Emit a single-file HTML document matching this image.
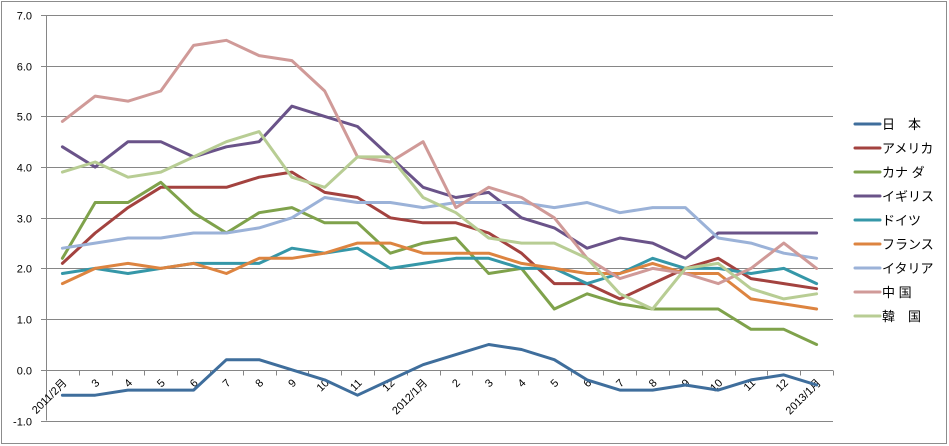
<!DOCTYPE html>
<html><head><meta charset="utf-8">
<style>
html,body{margin:0;padding:0;background:#fff;}
svg{display:block;font-family:"Liberation Sans","Noto Sans CJK JP",sans-serif;}
</style></head>
<body>
<svg id="chart" width="949" height="446" viewBox="0 0 949 446">
<rect x="1.5" y="1.5" width="945" height="442" fill="#fff" stroke="#8c8c8c" stroke-width="1"/>
<g id="grid"></g><g id="axes"></g><g id="series"></g><g id="legend"></g>
</svg>
<script>
const categories = ["2011/2月","3","4","5","6","7","8","9","10","11","12","2012/1月","2","3","4","5","6","7","8","9","10","11","12","2013/1月"];
const yTicks = [-1,0,1,2,3,4,5,6,7];
const seriesNames = ["日　本","アメリカ","カナ ダ","イギリス","ドイツ","フランス","イタリア","中 国","韓　国"];
const seriesColors = ["#3f6e9c","#a3423f","#7fa24b","#6a5389","#3597a8","#dd8440","#9bb2d8","#d09a98","#b8cd94"];
const japan   = [-0.5,-0.5,-0.4,-0.4,-0.4,0.2,0.2,0.0,-0.2,-0.5,-0.2,0.1,0.3,0.5,0.4,0.2,-0.2,-0.4,-0.4,-0.3,-0.4,-0.2,-0.1,-0.3];
const usa     = [2.1,2.7,3.2,3.6,3.6,3.6,3.8,3.9,3.5,3.4,3.0,2.9,2.9,2.7,2.3,1.7,1.7,1.4,1.7,2.0,2.2,1.8,1.7,1.6];
const canada  = [2.2,3.3,3.3,3.7,3.1,2.7,3.1,3.2,2.9,2.9,2.3,2.5,2.6,1.9,2.0,1.2,1.5,1.3,1.2,1.2,1.2,0.8,0.8,0.5];
const uk      = [4.4,4.0,4.5,4.5,4.2,4.4,4.5,5.2,5.0,4.8,4.2,3.6,3.4,3.5,3.0,2.8,2.4,2.6,2.5,2.2,2.7,2.7,2.7,2.7];
const germany = [1.9,2.0,1.9,2.0,2.1,2.1,2.1,2.4,2.3,2.4,2.0,2.1,2.2,2.2,2.0,2.0,1.7,1.9,2.2,2.0,2.0,1.9,2.0,1.7];
const france  = [1.7,2.0,2.1,2.0,2.1,1.9,2.2,2.2,2.3,2.5,2.5,2.3,2.3,2.3,2.1,2.0,1.9,1.9,2.1,1.9,1.9,1.4,1.3,1.2];
const italy   = [2.4,2.5,2.6,2.6,2.7,2.7,2.8,3.0,3.4,3.3,3.3,3.2,3.3,3.3,3.3,3.2,3.3,3.1,3.2,3.2,2.6,2.5,2.3,2.2];
const china   = [4.9,5.4,5.3,5.5,6.4,6.5,6.2,6.1,5.5,4.2,4.1,4.5,3.2,3.6,3.4,3.0,2.2,1.8,2.0,1.9,1.7,2.0,2.5,2.0];
const korea   = [3.9,4.1,3.8,3.9,4.2,4.5,4.7,3.8,3.6,4.2,4.2,3.4,3.1,2.6,2.5,2.5,2.2,1.5,1.2,2.0,2.1,1.6,1.4,1.5];

const allSeries = [japan,usa,canada,uk,germany,france,italy,china,korea];
const NS="http://www.w3.org/2000/svg";
const L=46, R=833, T=15, B=420.5, yMin=-1, yMax=7;
const n=categories.length, step=(R-L)/n;
function xPos(i){return L+step*(i+0.5);}
function yPos(v){return B-(v-yMin)/(yMax-yMin)*(B-T);}
function mk(tag,attrs,parent){const e=document.createElementNS(NS,tag);for(const k in attrs)e.setAttribute(k,attrs[k]);parent.appendChild(e);return e;}
const grid=document.getElementById('grid'),axes=document.getElementById('axes'),ser=document.getElementById('series'),leg=document.getElementById('legend');

yTicks.forEach(v=>{
  const y=Math.round(yPos(v))+0.5;
  const gl=mk('line',{x1:L,x2:R,y1:y,y2:y,stroke:'#868686','stroke-width':1},grid);
  
  
  const t=mk('text',{x:L-14,y:y+4,'text-anchor':'end','font-size':11,fill:'#000'},axes);
  t.textContent=v.toFixed(1);
  
  
  const tk=mk('line',{x1:L-5,x2:L,y1:y,y2:y,stroke:'#868686'},axes);
  
  
});
const ya=mk('line',{x1:L+0.5,x2:L+0.5,y1:T,y2:B,stroke:'#868686'},axes);


const y0=Math.round(yPos(0))+0.5;
for(let i=0;i<=n;i++){
  const x=Math.round(L+step*i)+0.5;
  const tk=mk('line',{x1:x,x2:x,y1:y0,y2:y0+5,stroke:'#868686'},axes);
  
  
}
categories.forEach((c,i)=>{
  const x=xPos(i)+5,y=y0+13;
  const t=mk('text',{x:x,y:y,'text-anchor':'end','font-size':11,fill:'#000',transform:`rotate(-45 ${x} ${y})`},axes);
  t.textContent=c;
  
  
});

allSeries.forEach((data,s)=>{
  const pts=data.map((v,i)=>xPos(i).toFixed(1)+','+yPos(v).toFixed(1)).join(' ');
  const pl=mk('polyline',{points:pts,fill:'none',stroke:seriesColors[s],'stroke-width':3,'stroke-linejoin':'round','stroke-linecap':'round'},ser);
  
  
  const ly=124+s*24;
  const g=mk('g',{},leg);
  
  
  mk('line',{x1:855,x2:880,y1:ly,y2:ly,stroke:seriesColors[s],'stroke-width':3,'stroke-linecap':'round'},g);
  const t=mk('text',{x:882,y:ly+5,'font-size':13,fill:'#000'},g);
  t.textContent=seriesNames[s];
});
</script>
</body></html>
